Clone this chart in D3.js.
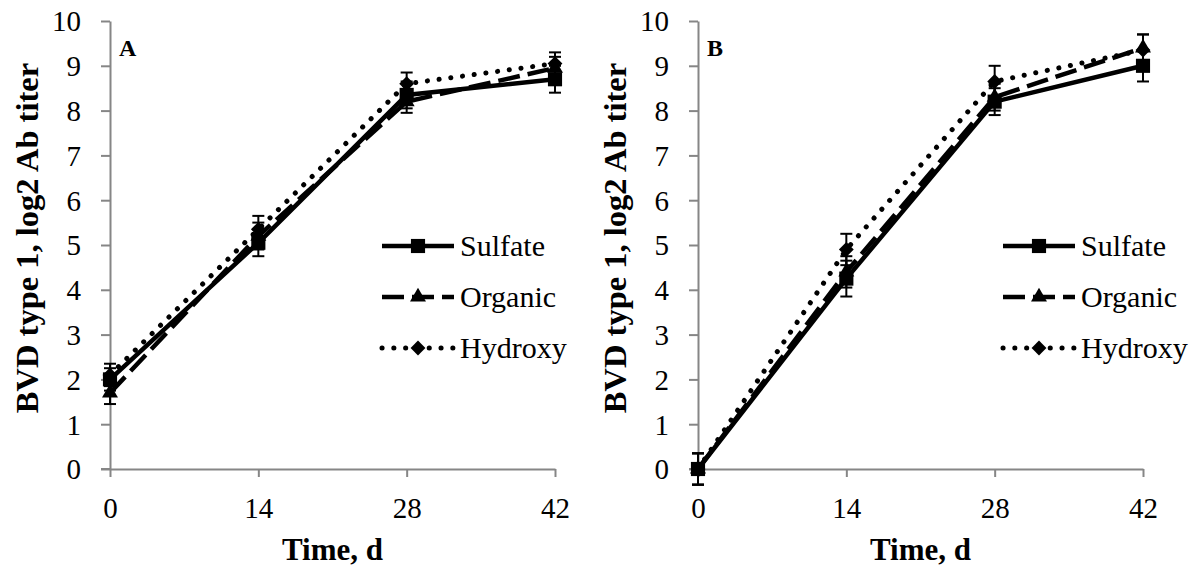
<!DOCTYPE html>
<html>
<head>
<meta charset="utf-8">
<script src="https://cdn.jsdelivr.net/npm/d3@7"></script>
<style>
  body { margin: 0; background: #fff; }
  svg text { font-family: "Liberation Serif", "Times New Roman", Times, serif !important; }
</style>
</head>
<body>
<svg id="chart" width="1202" height="573"></svg>
<script>
// data
var days = [0, 14, 28, 42];
var yTicks = [0, 1, 2, 3, 4, 5, 6, 7, 8, 9, 10];
var seriesNames = ["Sulfate", "Organic", "Hydroxy"];

var sulfateA = [2.0, 5.05, 8.35, 8.7];
var organicA = [1.7, 5.2, 8.2, 8.95];
var hydroxyA = [2.1, 5.35, 8.6, 9.05];
var sulfateErrA = [0.25, 0.3, 0.3, 0.3];
var organicErrA = [0.25, 0.3, 0.25, 0.25];
var hydroxyErrA = [0.25, 0.3, 0.25, 0.25];

var sulfateB = [0, 4.25, 8.2, 9.0];
var organicB = [0, 4.4, 8.3, 9.4];
var hydroxyB = [0, 4.9, 8.65, 9.35];
var sulfateErrB = [0.35, 0.4, 0.3, 0.35];
var organicErrB = [0.35, 0.35, 0.3, 0.3];
var hydroxyErrB = [0.35, 0.35, 0.35, 0.35];

var panels = [
  { label: "A", left: 110, legendX: 382, values: [sulfateA, organicA, hydroxyA], errs: [sulfateErrA, organicErrA, hydroxyErrA] },
  { label: "B", left: 698, legendX: 1003, values: [sulfateB, organicB, hydroxyB], errs: [sulfateErrB, organicErrB, hydroxyErrB] }
];

var styles = [
  { dash: null, cap: "butt", marker: d3.symbolSquare, size: 200, rot: 0 },
  { dash: "22,8", cap: "butt", marker: d3.symbolTriangle, size: 110, rot: 0 },
  { dash: "0.1,11.7", cap: "round", marker: d3.symbolSquare, size: 110, rot: 45 }
];

var serif = "'Liberation Serif', 'Times New Roman', serif";
var svg = d3.select("#chart");
var plotWidth = 445;
var plotTop = 21, plotBottom = 469;
var axisColor = "#868686";

panels.forEach(function (p) {
  var x = d3.scaleLinear().domain([0, 42]).range([p.left, p.left + plotWidth]);
  var y = d3.scaleLinear().domain([0, 10]).range([plotBottom, plotTop]);
  var g = svg.append("g");

  // axes
  var xAxis = d3.axisBottom(x).tickValues(days).tickSize(8).tickSizeOuter(0).tickPadding(20);
  var yAxis = d3.axisLeft(y).tickValues(yTicks).tickSize(9).tickSizeOuter(0).tickPadding(20);

  var gx = g.append("g").attr("transform", `translate(0, ${plotBottom})`).call(xAxis);
  var gy = g.append("g").attr("transform", `translate(${p.left}, 0)`).call(yAxis);
  [gx, gy].forEach(function (a) {
    a.attr("font-family", serif).attr("font-size", 29);
    a.select(".domain").attr("stroke", axisColor).attr("stroke-width", 2);
    a.selectAll(".tick line").attr("stroke", axisColor).attr("stroke-width", 2);
    a.selectAll(".tick text").attr("fill", "#000")
      .style("font-family", serif).style("font-size", "29px");
  });
  gy.selectAll(".tick text").attr("dy", "0.34em");
  gx.append("line").attr("x1", -9).attr("x2", 0).attr("y1", 0).attr("y2", 0)
    .attr("transform", `translate(${p.left}, 0)`)
    .attr("stroke", axisColor).attr("stroke-width", 2);

  // axis titles
  g.append("text")
    .attr("x", x(21)).attr("y", 560)
    .attr("text-anchor", "middle")
    .style("font-family", serif)
    .style("font-size", "31px").attr("font-weight", "bold")
    .text("Time, d");

  g.append("text")
    .attr("transform", `translate(${p.left - 72}, 238) rotate(-90)`)
    .attr("text-anchor", "middle")
    .style("font-family", serif)
    .style("font-size", "32.5px").attr("font-weight", "bold")
    .text("BVD type 1, log2 Ab titer");

  g.append("text")
    .attr("x", p.left + 9).attr("y", 56)
    .style("font-family", serif)
    .style("font-size", "24px").attr("font-weight", "bold")
    .text(p.label);

  var line = d3.line().x((d, i) => x(days[i])).y(d => y(d));

  p.values.forEach(function (vals, s) {
    var errs = p.errs[s];
    // error bars
    var eb = g.append("g").attr("stroke", "#000").attr("stroke-width", 2);
    vals.forEach(function (v, i) {
      var cx = x(days[i]);
      eb.append("line").attr("x1", cx).attr("x2", cx).attr("y1", y(v - errs[i])).attr("y2", y(v + errs[i]));
      eb.append("line").attr("x1", cx - 6).attr("x2", cx + 6).attr("y1", y(v - errs[i])).attr("y2", y(v - errs[i]));
      eb.append("line").attr("x1", cx - 6).attr("x2", cx + 6).attr("y1", y(v + errs[i])).attr("y2", y(v + errs[i]));
    });
  });

  p.values.forEach(function (vals, s) {
    var st = styles[s];
    g.append("path")
      .datum(vals)
      .attr("d", line)
      .attr("fill", "none")
      .attr("stroke", "#000")
      .attr("stroke-width", s === 2 ? 5 : 4.5)
      .attr("stroke-linecap", st.cap)
      .attr("stroke-dasharray", st.dash);

    g.selectAll(null)
      .data(vals)
      .enter()
      .append("path")
      .attr("d", d3.symbol().type(st.marker).size(st.size))
      .attr("transform", (d, i) => `translate(${x(days[i])}, ${y(d)}) rotate(${st.rot})`)
      .attr("fill", "#000");
  });

  // legend
  var lx = p.legendX, ly = 246, gap = 51;
  seriesNames.forEach(function (name, s) {
    var st = styles[s];
    var yy = ly + s * gap;
    g.append("line")
      .attr("x1", lx).attr("x2", lx + 72).attr("y1", yy).attr("y2", yy)
      .attr("stroke", "#000")
      .attr("stroke-width", s === 2 ? 5 : 4.5)
      .attr("stroke-linecap", st.cap)
      .attr("stroke-dasharray", st.dash);
    g.append("path")
      .attr("d", d3.symbol().type(st.marker).size(st.size))
      .attr("transform", `translate(${lx + 36}, ${yy}) rotate(${st.rot})`)
      .attr("fill", "#000");
    g.append("text")
      .attr("x", lx + 78).attr("y", yy + 10)
      .style("font-family", serif)
      .style("font-size", "30px")
      .text(name);
  });
});
</script>
</body>
</html>
